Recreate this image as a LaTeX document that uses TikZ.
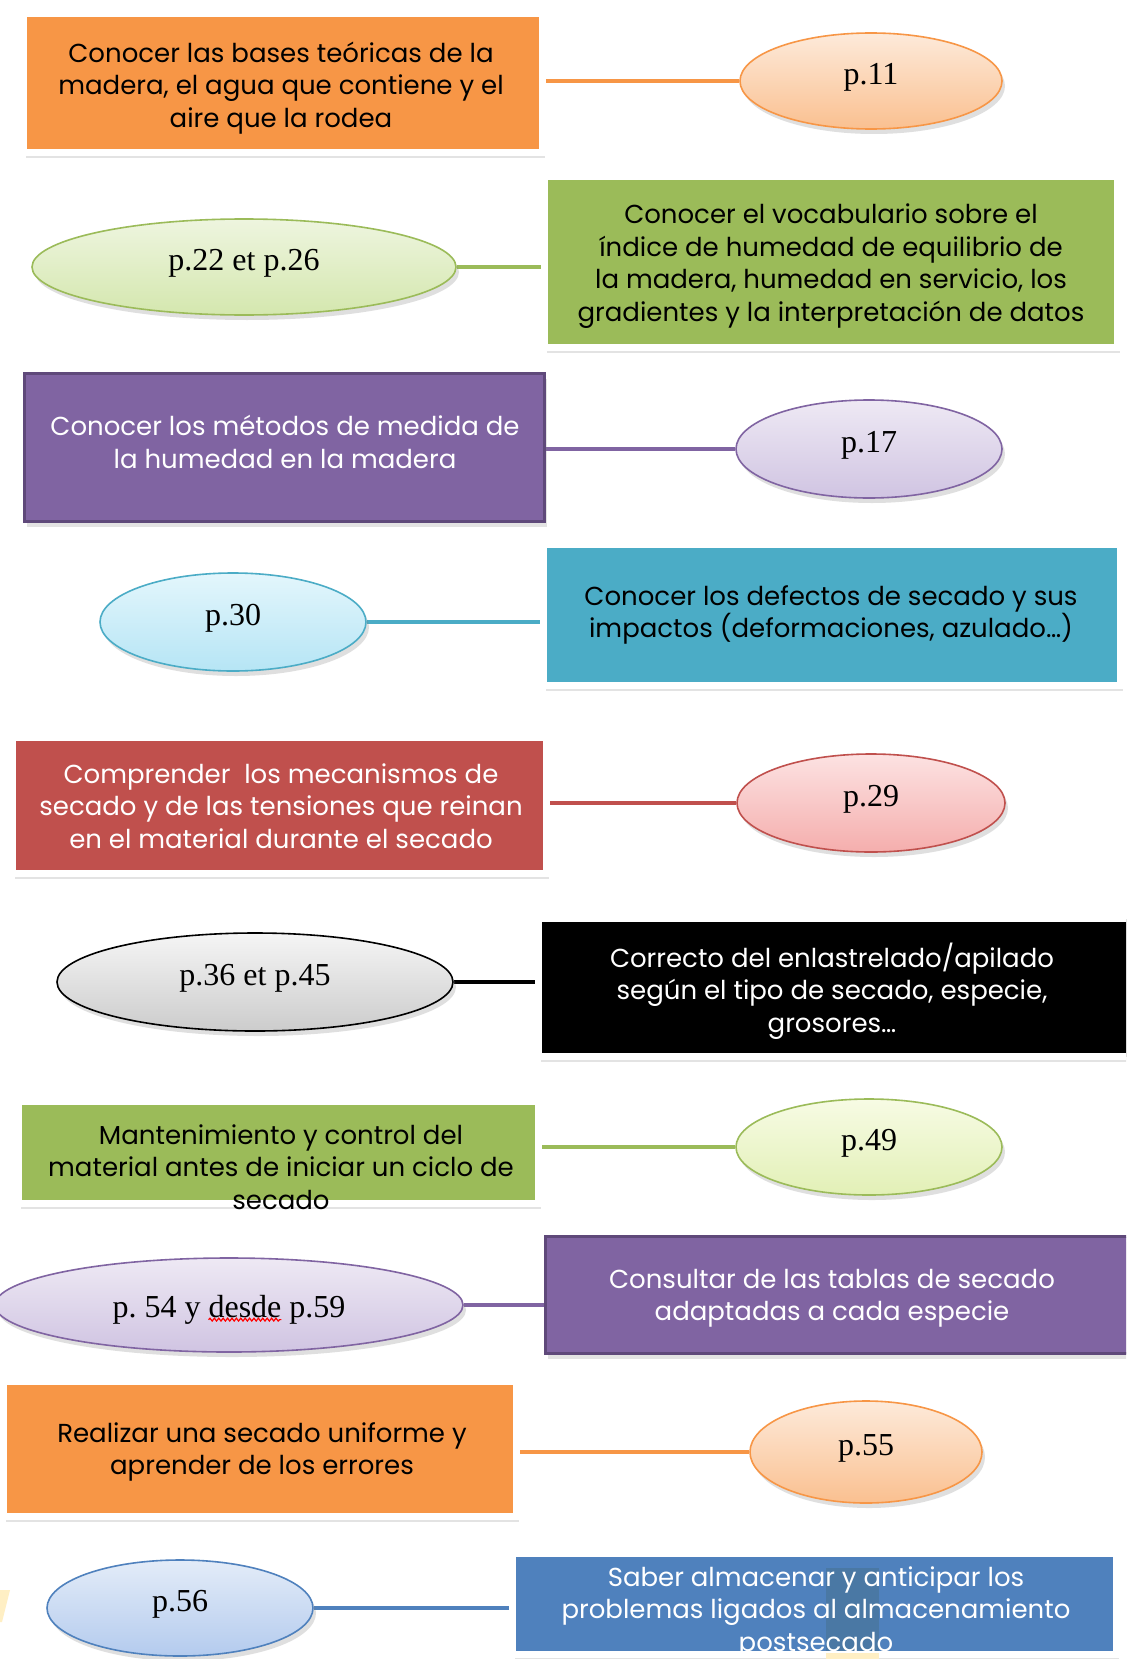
\documentclass[tikz,border=0pt]{standalone}
\usepackage{fontspec}
\setmainfont{Poppins}
\newfontfamily\pagefont{Liberation Serif}
\usetikzlibrary{shapes.geometric,shadows,backgrounds,decorations.pathmorphing}
\definecolor{orangeF}{HTML}{F79646}
\definecolor{greenF}{HTML}{9BBB59}
\definecolor{purpleF}{HTML}{8064A2}
\definecolor{purpleD}{HTML}{5F497A}
\definecolor{tealF}{HTML}{4BACC6}
\definecolor{redF}{HTML}{C0504D}
\definecolor{blueF}{HTML}{4F81BD}
\definecolor{patchB}{HTML}{4A78A4}
\definecolor{paleY}{HTML}{FFEFC4}
\definecolor{peachT}{HTML}{FDEADA}\definecolor{peachB}{HTML}{FAC090}
\definecolor{greenT}{HTML}{EEF5DF}\definecolor{greenB}{HTML}{D4E7AE}
\definecolor{lavT}{HTML}{EEE9F4}\definecolor{lavB}{HTML}{D0C4E2}
\definecolor{cyanT}{HTML}{E3F6FC}\definecolor{cyanB}{HTML}{B6E5F5}
\definecolor{pinkT}{HTML}{FCE2E2}\definecolor{pinkB}{HTML}{F5AEAD}
\definecolor{greyT}{HTML}{F5F5F5}\definecolor{greyB}{HTML}{CCCCCC}
\definecolor{limeT}{HTML}{F7FBE4}\definecolor{limeB}{HTML}{E2F0B6}
\definecolor{blueT}{HTML}{E3ECF8}\definecolor{blueB}{HTML}{B4CBEE}
\frenchspacing

\begin{document}
\begin{tikzpicture}[x=0.5pt,y=-0.5pt,
  panel/.style={rectangle,draw=white,line width=3.5pt,inner sep=0pt,
    drop shadow={shadow xshift=1pt,shadow yshift=-2.5pt,opacity=0.22}},
  darkpanel/.style={rectangle,draw=purpleD,line width=1.5pt,inner sep=0pt,fill=purpleF,
    drop shadow={shadow xshift=1pt,shadow yshift=-2.5pt,opacity=0.22}},
  goal/.style={align=center,inner sep=0pt,font=\fontsize{13}{16.25}\selectfont},
  page/.style n args={3}{ellipse,draw=#1,line width=0.8pt,inner sep=0pt,shading=axis,
    top color=#2,bottom color=#3,
    font=\pagefont\fontsize{16}{18}\selectfont,text height=10.8pt,text depth=7pt,
    drop shadow={shadow xshift=1.5pt,shadow yshift=-2.5pt,opacity=0.25}},
  link/.style={draw=#1,line width=2.3pt},
  spellmark/.style={draw=red,line width=0.6pt,decorate,
    decoration={snake,amplitude=0.7pt,segment length=2.2pt}}]
  \useasboundingbox (0,0) rectangle (1126,1659);
  \clip (0,0) rectangle (1126,1659);

  \node[panel,fill=orangeF,minimum width=259.5pt,minimum height=69.5pt] (goal1) at (283,83) {};
  \node[page={orangeF}{peachT}{peachB},minimum width=131pt,minimum height=48pt] (page1) at (871,81) {p.11};

  \node[panel,fill=greenF,minimum width=286.5pt,minimum height=85.5pt] (goal2) at (831,262) {};
  \node[page={greenF}{greenT}{greenB},minimum width=212pt,minimum height=48pt] (page2) at (244,267) {p.22 et p.26};

  \node[darkpanel,minimum width=260pt,minimum height=74pt] (goal3) at (284.5,447.5) {};
  \node[page={purpleF}{lavT}{lavB},minimum width=133pt,minimum height=49pt] (page3) at (869,449) {p.17};

  \node[panel,fill=tealF,minimum width=288.5pt,minimum height=70.5pt] (goal4) at (832,615) {};
  \node[page={tealF}{cyanT}{cyanB},minimum width=133pt,minimum height=49pt] (page4) at (233,622) {p.30};

  \node[panel,fill=redF,minimum width=267pt,minimum height=68pt] (goal5) at (279.5,805.5) {};
  \node[page={redF}{pinkT}{pinkB},minimum width=134pt,minimum height=49pt] (page5) at (871,803) {p.29};

  \node[panel,fill=black,minimum width=297.5pt,minimum height=69pt] (goal6) at (836,987.5) {};
  \node[page={black}{greyT}{greyB},minimum width=198pt,minimum height=49pt] (page6) at (255,982) {p.36 et p.45};

  \node[panel,fill=greenF,minimum width=260pt,minimum height=51pt] (goal7) at (278.5,1152.5) {};
  \node[page={greenF}{limeT}{limeB},minimum width=133pt,minimum height=48pt] (page7) at (869,1147) {p.49};

  \node[darkpanel,minimum width=291.5pt,minimum height=58.5pt] (goal8) at (837,1295) {};
  \node[page={purpleF}{lavT}{lavB},minimum width=234pt,minimum height=47pt,text height=12pt,text depth=0pt] (page8) at (229,1305) {p. 54 y desde p.59};
  \draw[spellmark] ([shift={(-10.2pt,-7.3pt)}]page8.center) -- ([shift={(26.2pt,-7.3pt)}]page8.center);

  \node[panel,fill=orangeF,minimum width=256.5pt,minimum height=67.5pt] (goal9) at (260,1449) {};
  \node[page={orangeF}{peachT}{peachB},minimum width=116pt,minimum height=51pt] (page9) at (866,1452) {p.55};

  \node[panel,fill=blueF,minimum width=302pt,minimum height=50.5pt] (goal10) at (814.5,1604) {};
  \node[page={blueF}{blueT}{blueB},minimum width=133pt,minimum height=48pt] (page10) at (180,1608) {p.56};

  \fill[patchB] (826,1568) rectangle (879,1651);
  \fill[paleY] (826,1653) rectangle (879,1659);
  \fill[paleY] (0,1590) -- (10,1590) -- (2,1622) -- (0,1622) -- cycle;

  \node[goal] (goal1-text) at (281,88) {Conocer las bases teóricas de la\\madera, el agua que contiene y el\\aire que la rodea};
  \node[goal] (goal2-text) at (831,266) {Conocer el vocabulario sobre el\\índice de humedad de equilibrio de\\la madera, humedad en servicio, los\\gradientes y la interpretación de datos};
  \node[goal,text=white] (goal3-text) at (285,442) {Conocer los métodos de medida de\\la humedad en la madera};
  \node[goal] (goal4-text) at (831,615) {Conocer los defectos de secado y sus\\impactos (deformaciones, azulado…)};
  \node[goal,text=white] (goal5-text) at (281,806) {Comprender\ \ los mecanismos de\\secado y de las tensiones que reinan\\en el material durante el secado};
  \node[goal,text=white] (goal6-text) at (832,991) {Correcto del enlastrelado/apilado\\según el tipo de secado, especie,\\grosores…};
  \node[goal] (goal7-text) at (281,1167) {Mantenimiento y control del\\material antes de iniciar un ciclo de\\secado};
  \node[goal,text=white] (goal8-text) at (832,1298) {Consultar de las tablas de secado\\adaptadas a cada especie};
  \node[goal] (goal9-text) at (262,1452) {Realizar una secado uniforme y\\aprender de los errores};
  \node[goal,text=white] (goal10-text) at (816,1612) {Saber almacenar y anticipar los\\problemas ligados al almacenamiento\\postsecado};

  \begin{scope}[on background layer]
    \fill[white] (0,0) rectangle (1126,1659);
    \foreach \i/\c in {1/orangeF,2/greenF,3/purpleF,4/tealF,5/redF,6/black,7/greenF,8/purpleF,9/orangeF,10/blueF}
      \draw[link=\c] (page\i) -- (goal\i |- page\i);
  \end{scope}
\end{tikzpicture}
\end{document}
